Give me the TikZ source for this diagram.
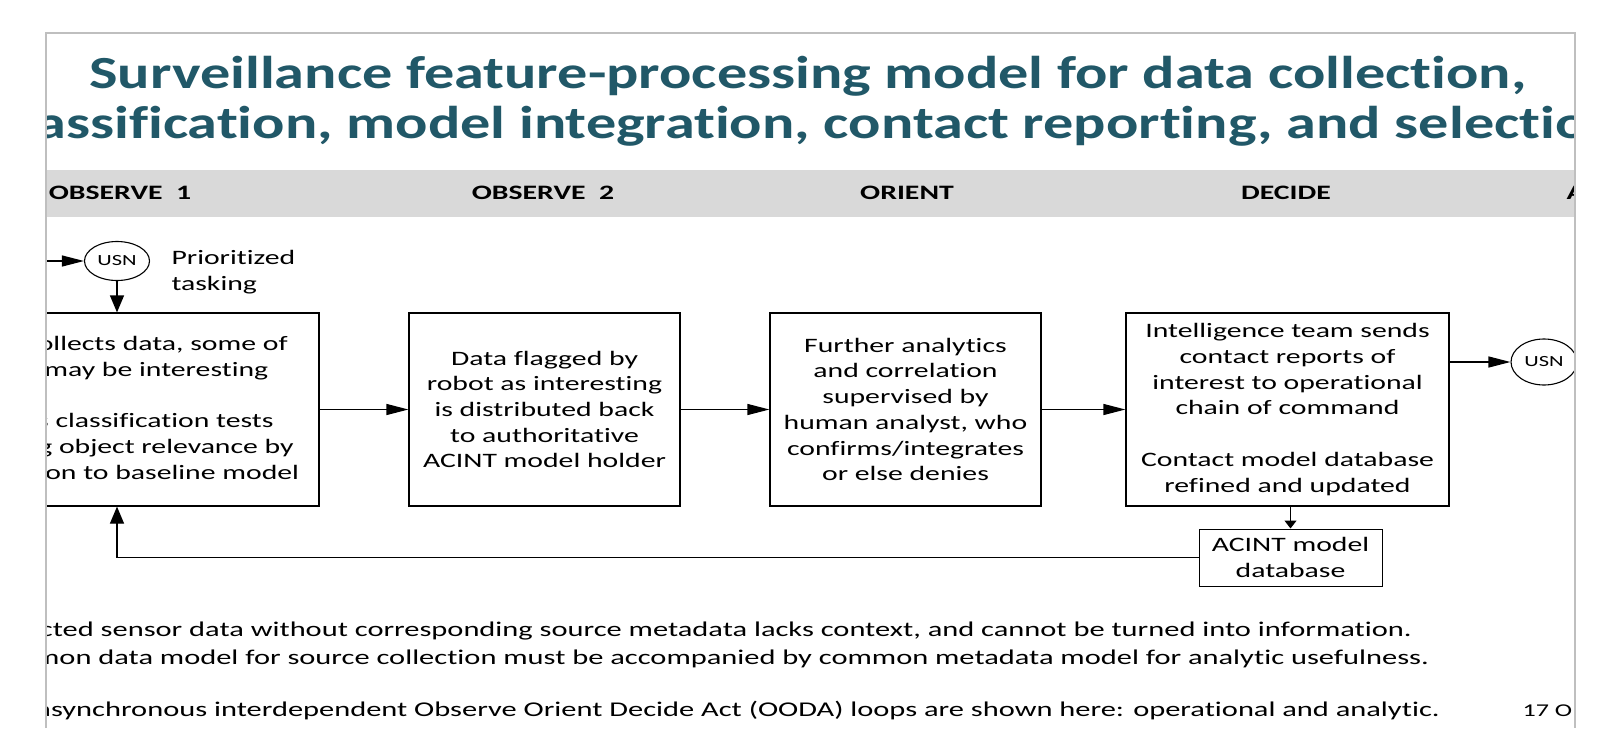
\documentclass[tikz,border=0pt]{standalone}
\usepackage{fontspec}
\setmainfont{Carlito}[FakeStretch=1.45, Ligatures={CommonOff}]
\newfontfamily\titlefont{Carlito}[FakeStretch=1.31, Ligatures={CommonOff}]
\usetikzlibrary{arrows.meta,shapes.geometric}
\definecolor{titleteal}{HTML}{215868}
\definecolor{bandgray}{HTML}{D9D9D9}
\definecolor{framegray}{HTML}{BFBFBF}
\tikzset{
	stagebox/.style={draw, line width=1.2pt, align=center, inner sep=0pt,
		font=\fontsize{20.5}{25.7}\selectfont},
	usnnode/.style={draw, ellipse, line width=1.1pt, inner sep=0pt,
		font=\fontsize{15.5}{18}\selectfont},
	phase/.style={anchor=base, font=\bfseries\fontsize{20.5}{24}\selectfont},
	titletext/.style={anchor=base, text=titleteal, font=\titlefont\bfseries\fontsize{46}{48}\selectfont},
	foot/.style={anchor=base west, font=\fontsize{21}{25}\selectfont},
	arr/.style={line width=1.2pt, -{Triangle[length=22pt,width=11pt]}},
	varr/.style={line width=1.2pt, -{Triangle[length=17pt,width=14pt]}},
	sarr/.style={line width=1.2pt, -{Triangle[length=8pt,width=12pt]}}
}

\begin{document}
\begin{tikzpicture}[x=1pt,y=-1pt]
	%%%%% START %%%%%
	\useasboundingbox (0,0) rectangle (1613,728);
	
	\begin{scope}
		\clip (46,33) rectangle (1575,728);
		
		% title and phase band
		\node[titletext] (title1) at (808,88) {Surveillance feature-processing model for data collection,};
		\node[titletext] (title2) at (808,138) {classification, model integration, contact reporting, and selection};
		
		\fill[bandgray] (46,170) rectangle (1575,217);
		\node[phase] (obs1) at (120,199) {OBSERVE\ \ 1};
		\node[phase] (obs2) at (543,199) {OBSERVE\ \ 2};
		\node[phase] (orient) at (907,199) {ORIENT};
		\node[phase] (decide) at (1286,199) {DECIDE};
		\node[phase, anchor=base west] (act) at (1563,199) {ACT};
		
		% boxes
		\node[usnnode, minimum width=65pt, minimum height=39pt] (usn1) at (117,261) {USN};
		\node[anchor=west, align=left, font=\fontsize{20.5}{25.7}\selectfont] (task) at (168,272) {Prioritized\\tasking};
		
		\node[stagebox, minimum width=404pt, minimum height=193pt] (robot) at (117,409.5)
			{Robot collects data, some of\\which may be interesting\\~\\Applies classification tests\\assessing object relevance by\\comparison to baseline model};
		\node[stagebox, minimum width=271pt, minimum height=193pt] (flag) at (544.5,409.5)
			{Data flagged by\\robot as interesting\\is distributed back\\to authoritative\\ACINT model holder};
		\node[stagebox, minimum width=271pt, minimum height=193pt] (analyst) at (905.5,409.5)
			{Further analytics\\and correlation\\supervised by\\human analyst, who\\confirms/integrates\\or else denies};
		\node[stagebox, minimum width=323pt, minimum height=193pt] (team) at (1287.5,409.5)
			{Intelligence team sends\\contact reports of\\interest to operational\\chain of command\\~\\Contact model database\\refined and updated};
		\node[stagebox, minimum width=183pt, minimum height=57pt, line width=1pt] (db) at (1290.5,557.5)
			{ACINT model\\database};
		\node[usnnode, minimum width=66pt, minimum height=46pt] (usn2) at (1544,362) {USN};
		
		% connectors
		\coordinate (usnin) at (20,261);
		\draw[arr] (usnin) -- (usn1);
		\draw[varr] (usn1) -- (robot);
		\draw[arr] (robot) -- (flag);
		\draw[arr] (flag) -- (analyst);
		\draw[arr] (analyst) -- (team);
		\draw[arr] (team.east |- usn2) -- (usn2);
		\draw[sarr] (db.north |- team.south) -- (db.north);
		\draw[varr] (db.west) -| (robot.south);
		
		% notes
		\node[foot] (note1) at (-25,636) {Collected sensor data without corresponding source metadata lacks context, and cannot be turned into information.};
		\node[foot] (note2) at (-25,664) {Common data model for source collection must be accompanied by common metadata model for analytic usefulness.};
		\node[foot] (note3) at (-25,716) {Two asynchronous interdependent Observe Orient Decide Act (OODA) loops are shown here: operational and analytic.};
		\node[foot, font=\fontsize{18}{20}\selectfont] (date) at (1519,716) {17 O};
	\end{scope}
	
	% slide frame
	\draw[framegray, line width=1.5pt] (46,728) -- (46,33) -- (1575,33) -- (1575,728);
	%%%%% END %%%%%
\end{tikzpicture}
\end{document}
